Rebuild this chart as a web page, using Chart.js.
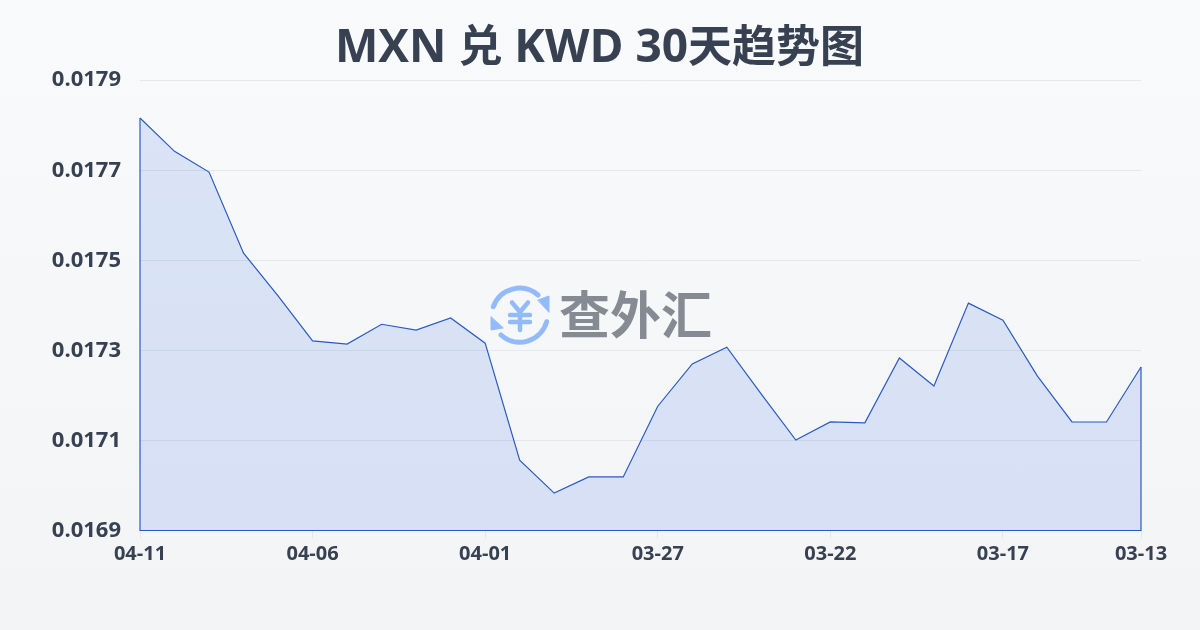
<!DOCTYPE html>
<html>
<head>
<meta charset="utf-8">
<title>MXN 兑 KWD 30天趋势图</title>
<script src="https://cdn.jsdelivr.net/npm/chart.js@4"></script>
<style>
    html, body { margin: 0; padding: 0; }
    body { width: 1200px; height: 630px; overflow: hidden; position: relative;
           background: linear-gradient(180deg, #f8fafc 0%, #f3f4f6 100%); }
    #chart { position: absolute; left: 0; top: 0; }
    h1 { position: absolute; left: 0; top: 11px; width: 1199px; margin: 0; text-align: center; white-space: pre;
         font: 700 46px/62px "Open Sans", "Noto Sans CJK SC"; color: #374151; }
    h1 span { font: 700 44px "Noto Sans CJK SC"; }
    #mark { position: absolute; left: 489px; top: 285px; width: 230px; height: 60px; }
    #mark span { position: absolute; left: 70px; top: -3px; font: 700 51px "Noto Sans CJK SC"; line-height: 60px;
                 color: #868a92; letter-spacing: 0; white-space: nowrap; }
</style>
</head>
<body>
<canvas id="chart" width="1200" height="630"></canvas>
<h1>MXN <span>兑</span> KWD 30<span>天趋势图</span></h1>
<div id="mark">
    <svg width="62" height="60" viewBox="0 0 62 60" fill="none" stroke="#93bbfb" stroke-linecap="round" stroke-linejoin="round">
        <path d="M4.3 21.7 A28 28 0 0 1 49 10" stroke-width="5"/>
        <path d="M49 15 L60 11 L60 27 Z" fill="#93bbfb" stroke="#93bbfb" stroke-width="1"/>
        <path d="M57.7 36.7 A28 28 0 0 1 12 50" stroke-width="5"/>
        <path d="M2 32 L2 45 L14 43 Z" fill="#93bbfb" stroke="#93bbfb" stroke-width="1"/>
        <path d="M23 17.5 L31 27 L39 17.5 M21 30 H41 M21 37 H41 M31 27 V45" stroke-width="4.5"/>
    </svg>
    <span>查外汇</span>
</div>
<script>
var categories = ['04-11','04-10','04-09','04-08','04-07','04-06','04-05','04-04','04-03','04-02',
    '04-01','03-31','03-30','03-29','03-28','03-27','03-26','03-25','03-24','03-23',
    '03-22','03-21','03-20','03-19','03-18','03-17','03-16','03-15','03-14','03-13'];
var rates = [0.017816,0.017742,0.017696,0.017516,0.017421,0.017321,0.017314,0.017358,0.017345,0.017372,
    0.017316,0.017056,0.016983,0.017019,0.017019,0.017176,0.01727,0.017307,0.017203,0.017101,
    0.017141,0.017139,0.017283,0.017221,0.017405,0.017367,0.017243,0.017141,0.017141,0.017263];
var xTickLabels = ['04-11','04-06','04-01','03-27','03-22','03-17','03-13'];
var yMin = 0.0169, yMax = 0.0179, yStep = 0.0002;

var last = categories.length - 1;
// closes the outline down the sides and along the bottom, the reference strokes the whole area
var outline = [
    {x: categories[0], y: rates[0]},
    {x: categories[0], y: yMin},
    {x: categories[last], y: yMin},
    {x: categories[last], y: rates[last]}
];

var ink = '#374151';
var grid = '#e5e7eb';
var blue = '#2a5bc0';

new Chart(document.getElementById('chart').getContext('2d'), {
    type: 'line',
    data: {
        labels: categories,
        datasets: [
            {
                data: rates,
                borderColor: blue,
                borderWidth: 1.2,
                backgroundColor: 'rgba(40,100,225,0.14)',
                fill: 'start',
                tension: 0,
                pointRadius: 0,
                clip: 2
            },
            {
                data: outline,
                borderColor: blue,
                borderWidth: 1.2,
                fill: false,
                tension: 0,
                pointRadius: 0,
                clip: 2
            }
        ]
    },
    options: {
        responsive: false,
        animation: false,
        layout: { padding: { top: 80.2, right: 59, bottom: 0, left: 0 } },
        plugins: {
            legend: { display: false },
            tooltip: { enabled: false }
        },
        scales: {
            x: {
                grid: { drawOnChartArea: false, drawTicks: true, tickLength: 8, color: grid, tickColor: grid },
                border: { display: false },
                afterBuildTicks: function (axis) {
                    axis.ticks = axis.ticks.filter(function (t) {
                        return xTickLabels.indexOf(categories[t.value]) !== -1;
                    });
                },
                afterFit: function (axis) { axis.height = 99.5; },
                ticks: {
                    autoSkip: false,
                    maxRotation: 0,
                    minRotation: 0,
                    padding: 4,
                    color: ink,
                    font: { family: '"Open Sans"', size: 20, weight: '700' }
                }
            },
            y: {
                min: yMin,
                max: yMax,
                grid: { color: grid, drawTicks: false },
                border: { display: false },
                afterFit: function (axis) { axis.width = 140; },
                ticks: {
                    stepSize: yStep,
                    padding: 19,
                    color: ink,
                    font: { family: '"Open Sans"', size: 22, weight: '700' },
                    callback: function (v) { return v.toFixed(4); }
                }
            }
        }
    }
});
</script>
</body>
</html>
